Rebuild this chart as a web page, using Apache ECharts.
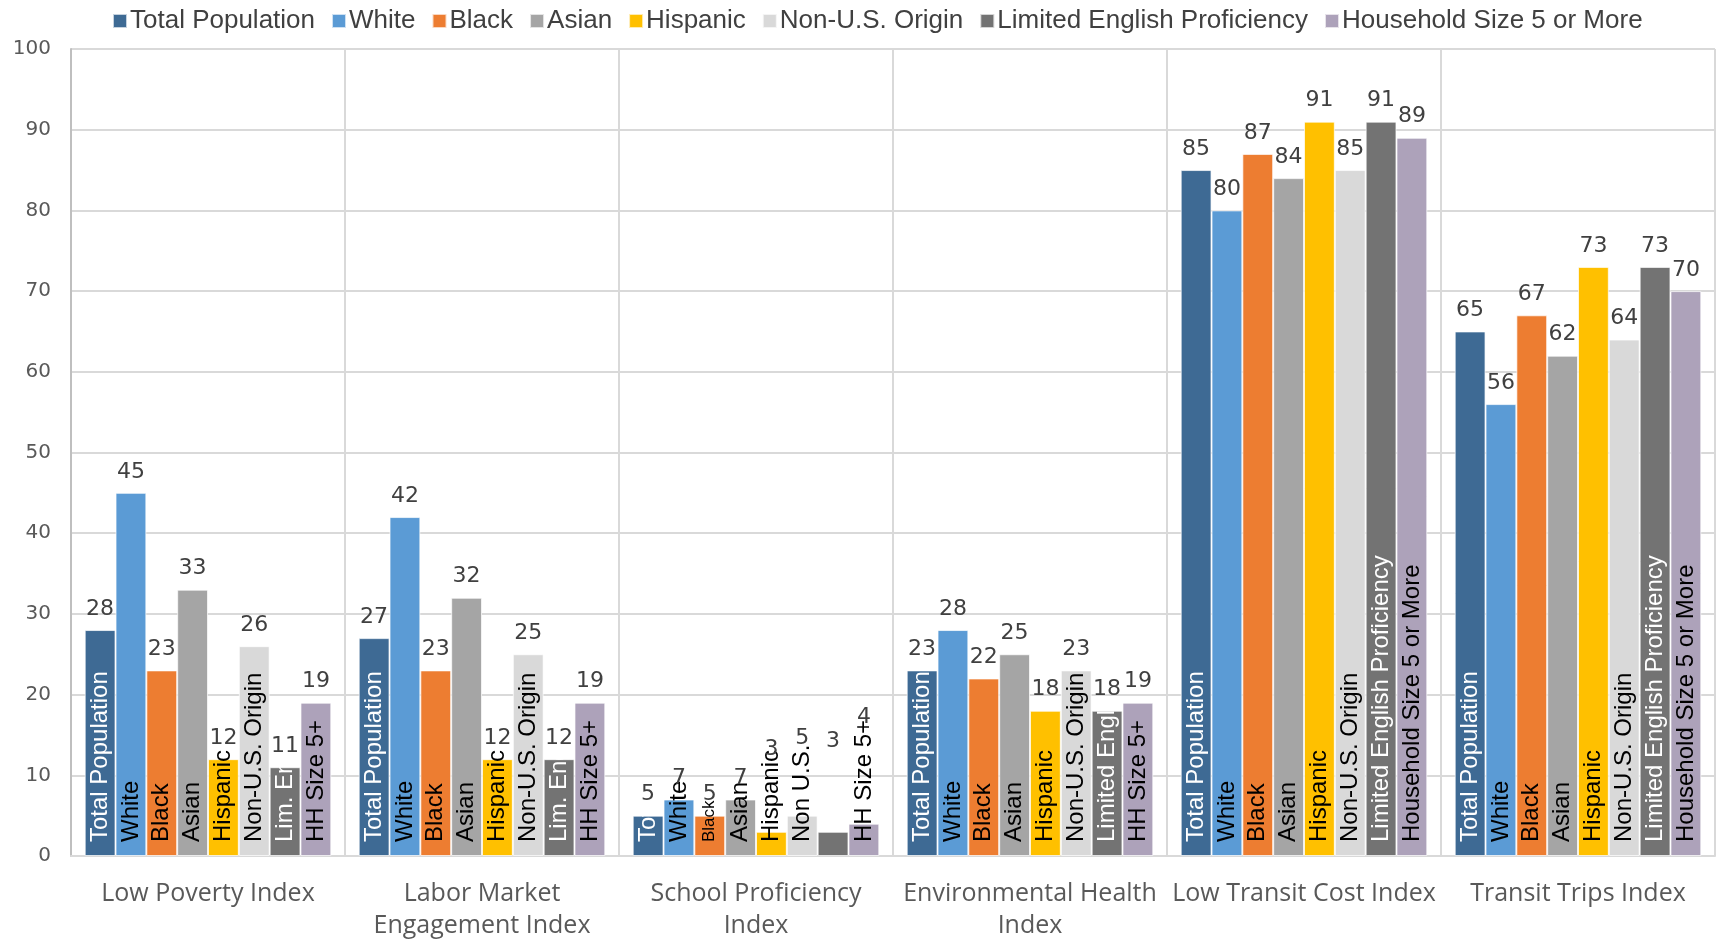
<!DOCTYPE html>
<html>
<head>
<meta charset="utf-8">
<script src="https://cdn.jsdelivr.net/npm/echarts@6/dist/echarts.min.js"></script>
<style>
  html, body { margin: 0; padding: 0; background: #ffffff; }
  #chart { width: 1716px; height: 942px; }
</style>
</head>
<body>
<div id="chart"></div>
<script>
// Opportunity indices by population group
const categories = [
  'Low Poverty Index',
  'Labor Market\nEngagement Index',
  'School Proficiency\nIndex',
  'Environmental Health\nIndex',
  'Low Transit Cost Index',
  'Transit Trips Index'
];

const seriesNames = [
  'Total Population', 'White', 'Black', 'Asian', 'Hispanic',
  'Non-U.S. Origin', 'Limited English Proficiency', 'Household Size 5 or More'
];

const totalPopulation = [28, 27, 5, 23, 85, 65];
const white           = [45, 42, 7, 28, 80, 56];
const black           = [23, 23, 5, 22, 87, 67];
const asian           = [33, 32, 7, 25, 84, 62];
const hispanic        = [12, 12, 3, 18, 91, 73];
const nonUSOrigin     = [26, 25, 5, 23, 85, 64];
const limitedEnglish  = [11, 12, 3, 18, 91, 73];
const householdSize5  = [19, 19, 4, 19, 89, 70];

// Text written inside each bar, per group and index
const totalPopulationText = ['Total Population', 'Total Population', 'Tot', 'Total Population', 'Total Population', 'Total Population'];
const whiteText           = ['White', 'White', 'White', 'White', 'White', 'White'];
const blackText           = ['Black', 'Black', 'Black', 'Black', 'Black', 'Black'];
const asianText           = ['Asian', 'Asian', 'Asian', 'Asian', 'Asian', 'Asian'];
const hispanicText        = ['Hispanic', 'Hispanic', 'Hispanic', 'Hispanic', 'Hispanic', 'Hispanic'];
const nonUSOriginText     = ['Non-U.S. Origin', 'Non-U.S. Origin', 'Non U.S.', 'Non-U.S. Origin', 'Non-U.S. Origin', 'Non-U.S. Origin'];
const limitedEnglishText  = ['Lim. En', 'Lim. Eng', '', 'Limited Engl', 'Limited English Proficiency', 'Limited English Proficiency'];
const householdSize5Text  = ['HH Size 5+', 'HH Size 5+', 'HH Size 5+', 'HH Size 5+', 'Household Size 5 or More', 'Household Size 5 or More'];

const yTicks = { min: 0, max: 100, interval: 10 };

const seriesValues = [totalPopulation, white, black, asian, hispanic, nonUSOrigin, limitedEnglish, householdSize5];
const seriesTexts = [totalPopulationText, whiteText, blackText, asianText, hispanicText, nonUSOriginText, limitedEnglishText, householdSize5Text];
const colors = ['#3E6A94', '#5B9BD5', '#ED7D31', '#A5A5A5', '#FFC000', '#D9D9D9', '#737373', '#ADA2BA'];
const innerTextColors = ['#ffffff', '#000000', '#000000', '#000000', '#000000', '#000000', '#ffffff', '#000000'];

// The short School Proficiency bars: value labels lifted clear of the bar text,
// and the "Black" text set smaller so it fits its bar
const SCHOOL = 2;
const schoolValueLabelDistance = [10, 10, 10, 10, 72, 66, 80, 95];
const schoolInnerFontSize = [24, 24, 17, 24, 24, 24, 24, 24];

const barLayout = { barGap: '0%', barCategoryGap: '10%' };

const barSeries = seriesNames.map((name, i) => ({
  name: name,
  type: 'bar',
  xAxisIndex: 0,
  ...barLayout,
  itemStyle: { color: colors[i], borderColor: 'rgba(255,255,255,0.7)', borderWidth: 1 },
  label: {
    show: true,
    position: 'insideBottom',
    rotate: 90,
    align: 'left',
    verticalAlign: 'middle',
    distance: 14,
    color: innerTextColors[i],
    fontFamily: 'Liberation Sans, Arial, sans-serif',
    fontSize: 24,
    formatter: p => seriesTexts[i][p.dataIndex]
  },
  data: seriesValues[i].map((v, k) =>
    k === SCHOOL ? { value: v, label: { fontSize: schoolInnerFontSize[i] } } : v)
}));

// Transparent copies on an overlaid axis carry the value labels above each bar
const valueSeries = seriesNames.map((name, i) => ({
  name: name,
  type: 'bar',
  xAxisIndex: 1,
  ...barLayout,
  silent: true,
  itemStyle: { color: 'rgba(0,0,0,0)' },
  label: {
    show: true,
    position: 'top',
    distance: 10,
    color: '#404040',
    fontFamily: 'DejaVu Sans, sans-serif',
    fontSize: 22,
    formatter: '{c}'
  },
  data: seriesValues[i].map((v, k) =>
    k === SCHOOL ? { value: v, label: { distance: schoolValueLabelDistance[i] } } : v)
}));

const chart = echarts.init(document.getElementById('chart'), null, { renderer: 'canvas' });

chart.setOption({
  animation: false,
  color: colors,
  legend: {
    data: seriesNames,
    top: 3,
    left: 107,
    icon: 'rect',
    itemWidth: 14,
    itemHeight: 14,
    itemGap: 16,
    textStyle: { color: '#404040', fontFamily: 'Liberation Sans, Arial, sans-serif', fontSize: 26, padding: [0, 0, 0, -2] }
  },
  grid: { left: 71, right: 1, top: 49, bottom: 81, containLabel: false },
  xAxis: [
    {
      type: 'category',
      data: categories,
      axisTick: { show: false },
      axisLine: { lineStyle: { color: '#D9D9D9', width: 2 } },
      splitLine: { show: true, lineStyle: { color: '#D9D9D9', width: 2 } },
      axisLabel: {
        color: '#595959',
        fontFamily: 'Open Sans, sans-serif',
        fontSize: 25,
        lineHeight: 32,
        margin: 22,
        interval: 0
      }
    },
    {
      type: 'category',
      data: categories,
      show: false
    }
  ],
  yAxis: {
    type: 'value',
    min: yTicks.min,
    max: yTicks.max,
    interval: yTicks.interval,
    axisLine: { show: true, lineStyle: { color: '#BFBFBF', width: 2 } },
    axisTick: { show: false },
    splitLine: { lineStyle: { color: '#D9D9D9', width: 2 } },
    axisLabel: {
      color: '#595959',
      fontFamily: 'DejaVu Sans, sans-serif',
      fontSize: 20,
      margin: 20
    }
  },
  series: [...barSeries, ...valueSeries]
});
</script>
</body>
</html>
